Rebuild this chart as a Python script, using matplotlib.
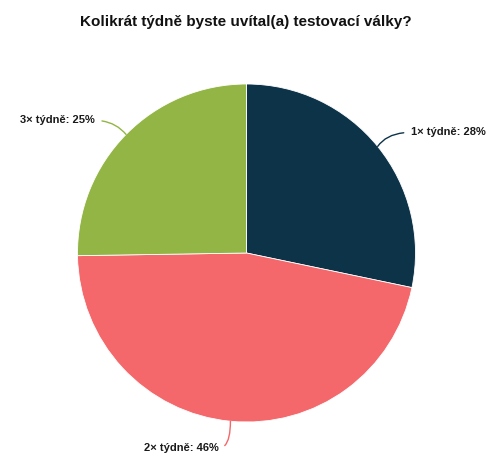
import numpy as np
import matplotlib
matplotlib.use("Agg")
import matplotlib.pyplot as plt

plt.rcParams['font.family'] = ['Liberation Sans', 'DejaVu Sans']

# Data
title = "Kolikrát týdně byste uvítal(a) testovací války?"
categories = ["1× týdně", "2× týdně", "3× týdně"]
shares = [28, 46, 25]
colors = ["#0d3349", "#f4676a", "#93b545"]

W, H = 500, 476
fig = plt.figure(figsize=(W / 100, H / 100), dpi=100)
ax = fig.add_axes([0, 0, 1, 1])

# pixel coords, y measured from the bottom
cx, cy, r = 246.5, H - 253, 169
wedges, _ = ax.pie(shares, colors=colors, startangle=90, counterclock=False,
                   center=(cx, cy), radius=r, frame=True,
                   wedgeprops=dict(linewidth=0.6, edgecolor='white'))
ax.set_xlim(0, W)
ax.set_ylim(0, H)
ax.set_aspect('equal')
ax.axis('off')

# label offsets from edge point (pixels, y up), alignment, leader shape
label_opts = [
    dict(dx=33, dy=14, ha='left', relpos=(0, 0.5), conn="angle3,angleA=0,angleB=55"),
    dict(dx=-12, dy=-27, ha='right', relpos=(1, 0.5), conn="angle3,angleA=0,angleB=90"),
    dict(dx=-31, dy=14, ha='right', relpos=(1, 0.5), conn="angle3,angleA=0,angleB=-50"),
]
for w, cat, val, col, opt in zip(wedges, categories, shares, colors, label_opts):
    mid = np.deg2rad((w.theta1 + w.theta2) / 2)
    ex = cx + r * np.cos(mid)
    ey = cy + r * np.sin(mid)
    ax.annotate(f"{cat}: {val}%", xy=(ex, ey),
                xytext=(ex + opt['dx'], ey + opt['dy']),
                ha=opt['ha'], va='center', fontsize=8, fontweight='bold',
                color='#1a1a1a',
                arrowprops=dict(arrowstyle='-', color=col, lw=1,
                                shrinkA=3, shrinkB=0, relpos=opt['relpos'],
                                connectionstyle=opt['conn']))

ax.text(W / 2 - 4, H - 22, title, ha='center', va='center', fontsize=11,
        fontweight='bold', color='#111111')

fig.savefig("out.png", dpi=100)
